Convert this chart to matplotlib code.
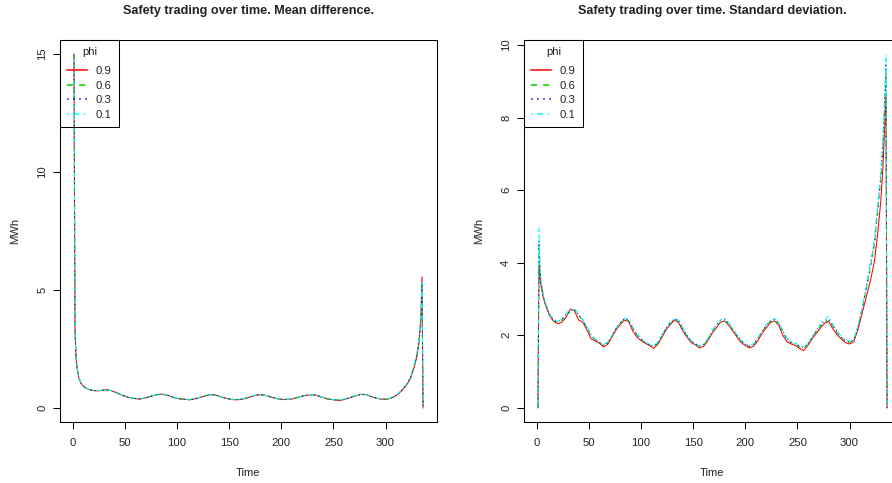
import matplotlib
matplotlib.use("Agg")
import matplotlib.pyplot as plt

# ---------------- data ----------------
time = [1, 2, 3, 4, 6, 8, 10, 12,
        16, 20, 24, 28, 32, 36, 40, 44, 48, 52,
        56, 60, 64, 68, 72, 76, 80, 84, 88, 92,
        96, 100, 104, 108, 112, 116, 120, 124, 128, 132,
        136, 140, 144, 148, 152, 156, 160, 164, 168, 172,
        176, 180, 184, 188, 192, 196, 200, 204, 208, 212,
        216, 220, 224, 228, 232, 236, 240, 244, 248, 252,
        256, 260, 264, 268, 272, 276, 280, 284, 288, 292,
        296, 300, 304, 308, 312, 316, 320, 324,
        327, 330, 332, 334, 335, 336]

mean_09 = [15.0, 3.3, 2.1, 1.65, 1.22, 1.02, 0.92, 0.85,
           0.77, 0.73, 0.72, 0.74, 0.77, 0.74, 0.67, 0.60, 0.52, 0.46,
           0.42, 0.39, 0.37, 0.40, 0.45, 0.50, 0.55, 0.58, 0.57, 0.52,
           0.45, 0.40, 0.37, 0.36, 0.34, 0.37, 0.41, 0.47, 0.52, 0.56,
           0.55, 0.50, 0.44, 0.39, 0.36, 0.34, 0.35, 0.38, 0.43, 0.49,
           0.54, 0.56, 0.54, 0.49, 0.43, 0.39, 0.36, 0.35, 0.36, 0.39,
           0.44, 0.49, 0.53, 0.56, 0.55, 0.50, 0.44, 0.38, 0.35, 0.33,
           0.31, 0.35, 0.40, 0.46, 0.52, 0.57, 0.57, 0.52, 0.45, 0.40,
           0.37, 0.36, 0.39, 0.46, 0.58, 0.75, 0.95, 1.25,
           1.65, 2.15, 2.7, 3.9, 5.55, 0.0]
mean_06 = [15.0, 3.4, 2.15, 1.68, 1.24, 1.03, 0.93, 0.85,
           0.76, 0.73, 0.73, 0.75, 0.76, 0.74, 0.68, 0.60, 0.53, 0.47,
           0.42, 0.40, 0.38, 0.41, 0.46, 0.51, 0.56, 0.58, 0.56, 0.51,
           0.45, 0.40, 0.38, 0.36, 0.35, 0.38, 0.42, 0.48, 0.53, 0.56,
           0.54, 0.49, 0.43, 0.39, 0.36, 0.35, 0.36, 0.39, 0.44, 0.50,
           0.54, 0.56, 0.53, 0.48, 0.43, 0.39, 0.37, 0.36, 0.37, 0.40,
           0.45, 0.50, 0.54, 0.56, 0.54, 0.49, 0.43, 0.38, 0.36, 0.34,
           0.34, 0.36, 0.41, 0.47, 0.53, 0.57, 0.56, 0.51, 0.45, 0.40,
           0.38, 0.37, 0.40, 0.47, 0.59, 0.76, 0.97, 1.28,
           1.7, 2.2, 2.75, 3.8, 5.3, 0.0]
mean_03 = [15.0, 3.35, 2.1, 1.66, 1.23, 1.03, 0.92, 0.86,
           0.77, 0.74, 0.73, 0.74, 0.76, 0.75, 0.68, 0.61, 0.53, 0.47,
           0.43, 0.40, 0.38, 0.40, 0.45, 0.51, 0.55, 0.57, 0.56, 0.52,
           0.46, 0.41, 0.38, 0.37, 0.35, 0.37, 0.42, 0.47, 0.52, 0.55,
           0.55, 0.50, 0.44, 0.40, 0.37, 0.35, 0.36, 0.39, 0.44, 0.49,
           0.54, 0.55, 0.53, 0.49, 0.44, 0.40, 0.37, 0.36, 0.37, 0.40,
           0.44, 0.49, 0.53, 0.55, 0.54, 0.50, 0.44, 0.39, 0.36, 0.34,
           0.33, 0.36, 0.41, 0.46, 0.52, 0.56, 0.56, 0.52, 0.46, 0.41,
           0.38, 0.37, 0.40, 0.47, 0.59, 0.77, 0.98, 1.30,
           1.72, 2.25, 2.8, 3.85, 5.2, 0.0]
mean_01 = [15.0, 3.3, 2.12, 1.67, 1.23, 1.02, 0.93, 0.86,
           0.77, 0.74, 0.73, 0.75, 0.77, 0.75, 0.69, 0.61, 0.54, 0.47,
           0.43, 0.40, 0.39, 0.41, 0.46, 0.51, 0.56, 0.58, 0.57, 0.52,
           0.46, 0.41, 0.38, 0.37, 0.36, 0.38, 0.42, 0.48, 0.53, 0.56,
           0.55, 0.50, 0.44, 0.40, 0.37, 0.35, 0.36, 0.40, 0.45, 0.50,
           0.55, 0.56, 0.54, 0.49, 0.44, 0.40, 0.37, 0.36, 0.37, 0.41,
           0.45, 0.50, 0.54, 0.56, 0.55, 0.50, 0.44, 0.39, 0.36, 0.34,
           0.34, 0.37, 0.41, 0.47, 0.53, 0.57, 0.57, 0.52, 0.46, 0.41,
           0.38, 0.37, 0.40, 0.48, 0.60, 0.78, 1.00, 1.32,
           1.75, 2.3, 2.85, 3.9, 5.3, 0.0]

sd_09 = [0.0, 4.0, 3.6, 3.35, 3.05, 2.85, 2.7, 2.55,
         2.38, 2.32, 2.36, 2.5, 2.72, 2.68, 2.42, 2.36, 2.15, 1.9,
         1.85, 1.78, 1.68, 1.75, 1.95, 2.15, 2.3, 2.42, 2.38, 2.12,
         1.95, 1.85, 1.78, 1.72, 1.64, 1.75, 1.95, 2.15, 2.3, 2.42,
         2.35, 2.12, 1.95, 1.8, 1.74, 1.65, 1.7, 1.85, 2.05, 2.2,
         2.35, 2.4, 2.28, 2.12, 1.95, 1.8, 1.72, 1.65, 1.7, 1.85,
         2.05, 2.2, 2.35, 2.4, 2.28, 2.0, 1.82, 1.76, 1.72, 1.64,
         1.58, 1.72, 1.9, 2.05, 2.2, 2.33, 2.38, 2.18, 2.02, 1.9,
         1.8, 1.76, 1.82, 2.15, 2.6, 3.05, 3.5, 4.05,
         4.8, 5.7, 6.6, 7.9, 8.6, 0.0]
sd_06 = [0.0, 4.5, 3.75, 3.45, 3.1, 2.9, 2.72, 2.58,
         2.4, 2.36, 2.42, 2.55, 2.65, 2.7, 2.55, 2.4, 2.2, 1.98,
         1.88, 1.8, 1.72, 1.8, 1.98, 2.18, 2.33, 2.45, 2.4, 2.2,
         2.0, 1.88, 1.8, 1.74, 1.68, 1.78, 1.98, 2.18, 2.33, 2.42,
         2.38, 2.18, 1.98, 1.83, 1.76, 1.68, 1.73, 1.88, 2.08, 2.25,
         2.36, 2.4, 2.32, 2.15, 1.98, 1.84, 1.75, 1.68, 1.74, 1.9,
         2.1, 2.25, 2.38, 2.4, 2.32, 2.1, 1.88, 1.8, 1.75, 1.68,
         1.65, 1.74, 1.92, 2.1, 2.25, 2.36, 2.4, 2.26, 2.08, 1.94,
         1.84, 1.8, 1.85, 2.2, 2.7, 3.25, 3.85, 4.5,
         5.4, 6.3, 7.1, 8.5, 9.3, 0.0]
sd_03 = [0.0, 4.6, 3.8, 3.45, 3.12, 2.9, 2.73, 2.6,
         2.42, 2.38, 2.44, 2.58, 2.7, 2.72, 2.56, 2.42, 2.22, 2.0,
         1.9, 1.8, 1.72, 1.8, 1.98, 2.2, 2.35, 2.46, 2.42, 2.2,
         2.02, 1.9, 1.8, 1.73, 1.7, 1.8, 2.0, 2.2, 2.35, 2.45,
         2.4, 2.2, 2.0, 1.84, 1.77, 1.7, 1.75, 1.9, 2.1, 2.28,
         2.4, 2.45, 2.34, 2.16, 2.0, 1.85, 1.76, 1.7, 1.75, 1.92,
         2.1, 2.28, 2.4, 2.44, 2.34, 2.12, 1.9, 1.8, 1.76, 1.7,
         1.66, 1.76, 1.95, 2.12, 2.28, 2.4, 2.45, 2.28, 2.1, 1.95,
         1.85, 1.82, 1.88, 2.22, 2.72, 3.3, 3.95, 4.6,
         5.5, 6.4, 7.3, 8.7, 9.5, 0.0]
sd_01 = [0.0, 4.97, 3.9, 3.5, 3.15, 2.92, 2.75, 2.6,
         2.42, 2.38, 2.45, 2.6, 2.72, 2.74, 2.58, 2.44, 2.24, 2.0,
         1.9, 1.82, 1.74, 1.82, 2.0, 2.2, 2.36, 2.48, 2.44, 2.22,
         2.04, 1.92, 1.82, 1.76, 1.7, 1.82, 2.02, 2.22, 2.38, 2.47,
         2.42, 2.22, 2.02, 1.86, 1.78, 1.7, 1.76, 1.92, 2.12, 2.3,
         2.42, 2.47, 2.36, 2.18, 2.02, 1.87, 1.78, 1.72, 1.77, 1.94,
         2.12, 2.3, 2.42, 2.46, 2.36, 2.14, 1.92, 1.82, 1.78, 1.72,
         1.68, 1.78, 1.96, 2.14, 2.3, 2.45, 2.52, 2.3, 2.12, 1.97,
         1.87, 1.84, 1.9, 2.25, 2.75, 3.35, 4.0, 4.7,
         5.6, 6.5, 7.4, 8.8, 9.75, 0.0]

phi_labels = ["0.9", "0.6", "0.3", "0.1"]
x_ticks = [0, 50, 100, 150, 200, 250, 300]
y_ticks_mean = [0, 5, 10, 15]
y_ticks_sd = [0, 2, 4, 6, 8, 10]
titles = ["Safety trading over time. Mean difference.",
          "Safety trading over time. Standard deviation."]

# ---------------- styling ----------------
plt.rcParams['font.family'] = ['Liberation Sans', 'DejaVu Sans']
colors = ["#FF0000", "#00CD00", "#0000FF", "#00FFFF"]
styles = ["-", (0, (4, 4)), (0, (1, 3)), (0, (1, 3, 4, 3))]
LW = 0.75
FS = 8.1
TFS = 9.1

W, H = 892, 483
fig = plt.figure(figsize=(W / 100, H / 100), dpi=100)
fig.patch.set_facecolor("white")


def px_axes(l, t, r, b):
    return fig.add_axes([l / W, (H - b) / H, (r - l) / W, (b - t) / H])


ax1 = px_axes(60, 40, 437, 422)
ax2 = px_axes(524, 40, 901, 422)


def r_lim(vals):
    lo, hi = min(vals), max(vals)
    pad = 0.04 * (hi - lo)
    return lo - pad, hi + pad


def draw(ax, series, yticks, title):
    handles = []
    for vals, c, ls, lab in zip(series, colors, styles, phi_labels):
        h, = ax.plot(time, vals, color=c, linestyle=ls, linewidth=LW, label=lab)
        handles.append(h)
    ax.set_xlim(*r_lim(time))
    ax.set_ylim(*r_lim([v for s in series for v in s]))
    ax.set_xticks(x_ticks)
    ax.set_yticks(yticks)
    ax.tick_params(direction="out", length=5.0, width=LW, color="black",
                   labelsize=FS, labelcolor="#222222")
    ax.tick_params(axis="x", pad=6.3)
    ax.tick_params(axis="y", pad=4.2)
    for lab in ax.get_yticklabels():
        lab.set_rotation(90)
        lab.set_verticalalignment("center")
    for sp in ax.spines.values():
        sp.set_linewidth(LW)
        sp.set_color("black")
    ax.set_xlabel("Time", fontsize=FS, color="#222222")
    ax.set_ylabel("MWh", fontsize=FS, color="#222222")
    ax.xaxis.set_label_coords(0.5, (422 - 473.3) / 382)
    ax.xaxis.label.set_verticalalignment("center")
    ax.yaxis.set_label_coords(-45 / 377, 0.5)
    ax.yaxis.label.set_verticalalignment("center")
    ax.text(0.5, (422 - 13.5) / 382, title, transform=ax.transAxes,
            ha="center", va="baseline", fontsize=TFS, fontweight="bold",
            color="#222222")
    leg = ax.legend(handles=handles, title="phi", loc="upper left",
                    bbox_to_anchor=(0, 1), borderaxespad=0, fontsize=FS,
                    title_fontsize=FS, fancybox=False, framealpha=1,
                    facecolor="none", edgecolor="black", borderpad=0.6,
                    labelspacing=0.43, handlelength=1.8, handletextpad=0.8)
    leg.get_frame().set_linewidth(LW)
    # extra gap between the legend title and the first entry (as in R)
    leg._legend_box.sep = leg._legend_box.sep + 3.0
    for ln in leg.get_lines():
        ln.set_linewidth(1.1)
    for t in leg.get_texts():
        t.set_color("#222222")
    leg.get_title().set_color("#222222")


draw(ax1, [mean_09, mean_06, mean_03, mean_01], y_ticks_mean, titles[0])
draw(ax2, [sd_09, sd_06, sd_03, sd_01], y_ticks_sd, titles[1])

fig.savefig("out.png", dpi=100, facecolor="white")
